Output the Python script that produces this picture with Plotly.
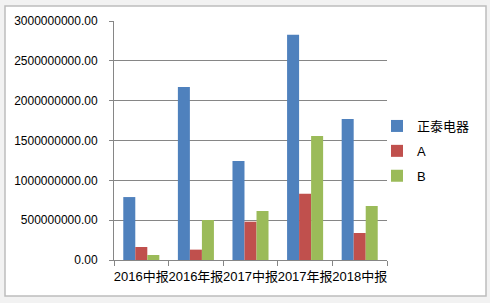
import plotly.graph_objects as go

categories = ["2016中报", "2016年报", "2017中报", "2017年报", "2018中报"]
series_names = ["正泰电器", "A", "B"]
zhengtai = [790e6, 2172e6, 1243e6, 2828e6, 1770e6]
a_vals = [163e6, 130e6, 481e6, 832e6, 339e6]
b_vals = [63e6, 502e6, 615e6, 1556e6, 678e6]
colors = ["#4F81BD", "#C0504D", "#9BBB59"]
y_ticks = [0, 500e6, 1000e6, 1500e6, 2000e6, 2500e6, 3000e6]

FONT = "Liberation Sans, Arial, Noto Sans CJK SC, sans-serif"

fig = go.Figure()
for i, (name, vals) in enumerate(zip(series_names, [zhengtai, a_vals, b_vals])):
    fig.add_trace(go.Bar(x=categories, y=vals, name=name, marker_color=colors[i],
                         marker_line_width=0, legendgroup=name))

L, R, T, B = 114, 103, 21, 43
W, H = 490, 303
pw, ph = W - L - R, H - T - B

fig.add_shape(type="rect", xref="paper", yref="paper",
              x0=(5 - L) / pw, x1=(486 - L) / pw,
              y0=(H - B - 296) / ph, y1=(H - B - 6) / ph,
              fillcolor="white", line=dict(color="#bdbdbd", width=1.5), layer="below")

fig.update_layout(
    width=W, height=H,
    margin=dict(l=L, r=R, t=T, b=B, autoexpand=False),
    paper_bgcolor="#f2f2f2", plot_bgcolor="rgba(0,0,0,0)",
    barmode="group", bargap=0.34, bargroupgap=0,
    font=dict(family=FONT, size=12, color="#000000"),
    legend=dict(x=(377 - L) / pw, y=(H - B - 111) / ph, xanchor="left", yanchor="top",
                bgcolor="rgba(0,0,0,0)", font=dict(size=13), tracegroupgap=5,
                itemwidth=30),
    xaxis=dict(type="category", showline=True, linecolor="#868686", linewidth=1,
               ticks="outside", tickson="boundaries", ticklen=5, tickcolor="#868686",
               showgrid=False, tickfont=dict(size=13), tickangle=0, automargin=False,
               ticklabelstandoff=4),
    yaxis=dict(range=[0, 3000e6], tickvals=y_ticks, tickformat=".2f",
               showline=True, linecolor="#868686", linewidth=1,
               ticks="outside", ticklen=4, tickcolor="#868686",
               showgrid=True, gridcolor="#868686", gridwidth=1,
               zeroline=False, tickfont=dict(size=12), ticklabelstandoff=9,
               automargin=False),
)

fig.write_html("out.html")
